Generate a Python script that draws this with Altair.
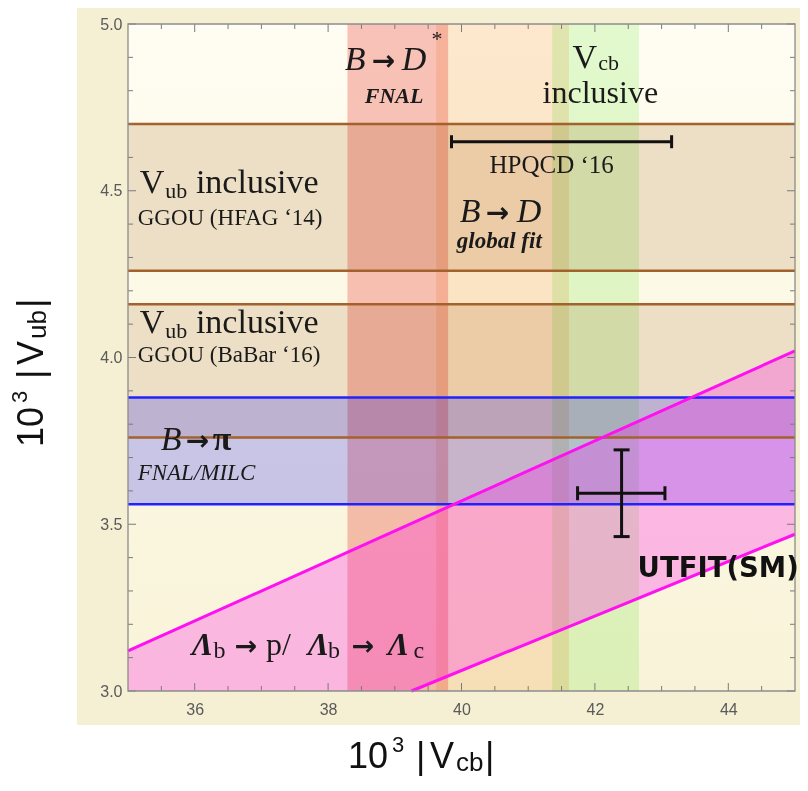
import altair as alt
import pandas as pd

# ---------------- data ----------------
X_DOMAIN = [35.0, 45.0]
Y_DOMAIN = [3.0, 5.0]
W = 667
H = 667

# vertical |Vcb| bands
vband_names = ["B→D* FNAL", "B→D global fit", "Vcb inclusive"]
vband_lo = [38.29, 39.62, 41.36]
vband_hi = [39.80, 41.61, 42.66]
vband_colors = ["#f9c4c1", "#fdead8", "#e2fbd8"]

# horizontal Vub inclusive (GGOU) bands
tan_names = ["GGOU (HFAG '14)", "GGOU (BaBar '16)"]
tan_lo = [4.26, 3.76]
tan_hi = [4.70, 4.16]

# B -> pi FNAL/MILC band
blue_lo = [3.56]
blue_hi = [3.88]

# Lambda_b ratio band: edge points inside the frame (lower edge meets the bottom at 39.25)
lam_x = [35.0, 39.25, 45.0]
lam_upper = [3.12, 3.50, 4.02]
lam_lower = [3.0, 3.0, 3.47]

# HPQCD '16 (Vcb range at fixed height)
hpqcd_y = [4.647]
hpqcd_lo = [39.85]
hpqcd_hi = [43.15]

# UTFIT (SM) point
utfit_x = [42.40]
utfit_xlo = [41.74]
utfit_xhi = [43.05]
utfit_y = [3.593]
utfit_ylo = [3.463]
utfit_yhi = [3.723]

# axis ticks
x_major = [36, 38, 40, 42, 44]
y_major = [3.0, 3.5, 4.0, 4.5, 5.0]
x_minor = [35.5, 36.5, 37.0, 37.5, 38.5, 39.0, 39.5, 40.5, 41.0, 41.5, 42.5, 43.0, 43.5, 44.5]
y_minor = [3.1, 3.2, 3.3, 3.4, 3.6, 3.7, 3.8, 3.9, 4.1, 4.2, 4.3, 4.4, 4.6, 4.7, 4.8, 4.9]

# ---------------- scales / helpers ----------------
xs = alt.Scale(domain=X_DOMAIN, nice=False, zero=False)
ys = alt.Scale(domain=Y_DOMAIN, nice=False, zero=False)
xax = alt.Axis(values=x_major, format="d", ticks=False, domain=False, grid=False,
               labelFontSize=16, labelColor="#5a5a5a", labelFont="Liberation Sans",
               labelPadding=10, title=None, zindex=1)
yax = alt.Axis(values=y_major, format=".1f", ticks=False, domain=False, grid=False,
               labelFontSize=16, labelColor="#5a5a5a", labelFont="Liberation Sans",
               labelPadding=6, title=None, zindex=1)


def X(f):
    return alt.X(f, type="quantitative", scale=xs, axis=xax)


def Y(f):
    return alt.Y(f, type="quantitative", scale=ys, axis=yax)


one = pd.DataFrame({"a": [0]})
layers = []

# outer beige frame
layers.append(alt.Chart(one).mark_rect(color="#f5f0d4").encode(
    x=alt.value(-51), x2=alt.value(672), y=alt.value(-21), y2=alt.value(701)))

# plot background (light cream gradient)
grad = alt.LinearGradient(gradient="linear", x1=0, x2=0, y1=0, y2=1,
                          stops=[alt.GradientStop(color="#fffdf3", offset=0),
                                 alt.GradientStop(color="#fcf8e4", offset=0.5),
                                 alt.GradientStop(color="#f8f3d8", offset=1)])
layers.append(alt.Chart(one).mark_rect(color=grad).encode(
    x=alt.value(0), x2=alt.value(W), y=alt.value(0), y2=alt.value(H)))

# tan bands
tan_df = pd.DataFrame({"lo": tan_lo, "hi": tan_hi, "x0": X_DOMAIN[0], "x1": X_DOMAIN[1]})
layers.append(alt.Chart(tan_df).mark_rect(color="#eddfc5").encode(
    x=X("x0"), x2="x1", y=Y("lo"), y2="hi"))

# vertical bands (multiply, no clip so they blend with everything below)
vb_df = pd.DataFrame({"name": vband_names, "lo": vband_lo, "hi": vband_hi, "c": vband_colors,
                      "y0": Y_DOMAIN[0], "y1": Y_DOMAIN[1]})
layers.append(alt.Chart(vb_df).mark_rect(blend="multiply").encode(
    x=X("lo"), x2="hi", y=Y("y0"), y2="y1", color=alt.Color("c:N", scale=None)))

# blue band (translucent pure blue)
bl_df = pd.DataFrame({"lo": blue_lo, "hi": blue_hi, "x0": X_DOMAIN[0], "x1": X_DOMAIN[1]})
layers.append(alt.Chart(bl_df).mark_rect(color="#0000ff", opacity=0.2).encode(
    x=X("x0"), x2="x1", y=Y("lo"), y2="hi"))

# Lambda_b band (translucent magenta)
lam_df = pd.DataFrame({"x": lam_x, "up": lam_upper, "lo": lam_lower})
layers.append(alt.Chart(lam_df).mark_area(color="#ff00ef", opacity=0.25).encode(
    x=X("x"), y=Y("up"), y2="lo"))

# edge lines
brown_df = pd.DataFrame({"y": tan_hi + tan_lo, "x0": X_DOMAIN[0], "x1": X_DOMAIN[1]})
layers.append(alt.Chart(brown_df).mark_rule(color="#a3622c", strokeWidth=2.5).encode(
    x=X("x0"), x2="x1", y=Y("y")))
blue_df = pd.DataFrame({"y": blue_hi + blue_lo, "x0": X_DOMAIN[0], "x1": X_DOMAIN[1]})
layers.append(alt.Chart(blue_df).mark_rule(color="#2222ff", strokeWidth=2.5).encode(
    x=X("x0"), x2="x1", y=Y("y")))
mag_df = pd.DataFrame({"x0": [lam_x[0], lam_x[1]], "x1": [lam_x[2], lam_x[2]],
                       "y0": [lam_upper[0], lam_lower[1]], "y1": [lam_upper[2], lam_lower[2]]})
layers.append(alt.Chart(mag_df).mark_rule(color="#ff10f0", strokeWidth=3).encode(
    x=X("x0"), x2="x1", y=Y("y0"), y2="y1"))

# HPQCD error bar
hp_df = pd.DataFrame({"y": hpqcd_y, "lo": hpqcd_lo, "hi": hpqcd_hi})
layers.append(alt.Chart(hp_df).mark_rule(color="#111111", strokeWidth=3).encode(
    x=X("lo"), x2="hi", y=Y("y")))
hp_caps = pd.DataFrame({"x": hpqcd_lo + hpqcd_hi, "y": hpqcd_y * 2})
layers.append(alt.Chart(hp_caps).mark_tick(orient="vertical", size=13, thickness=3, color="#111111",
                                           opacity=1).encode(x=X("x"), y=Y("y")))

# UTFIT cross
ut_df = pd.DataFrame({"x": utfit_x, "xlo": utfit_xlo, "xhi": utfit_xhi,
                      "y": utfit_y, "ylo": utfit_ylo, "yhi": utfit_yhi})
layers.append(alt.Chart(ut_df).mark_rule(color="#111111", strokeWidth=3).encode(
    x=X("xlo"), x2="xhi", y=Y("y")))
layers.append(alt.Chart(ut_df).mark_rule(color="#111111", strokeWidth=3).encode(
    x=X("x"), y=Y("ylo"), y2="yhi"))
ut_vcaps = pd.DataFrame({"x": utfit_xlo + utfit_xhi, "y": utfit_y * 2})
layers.append(alt.Chart(ut_vcaps).mark_tick(orient="vertical", size=14, thickness=3, color="#111111",
                                            opacity=1).encode(x=X("x"), y=Y("y")))
ut_hcaps = pd.DataFrame({"x": utfit_x * 2, "y": utfit_ylo + utfit_yhi})
layers.append(alt.Chart(ut_hcaps).mark_tick(orient="horizontal", size=16, thickness=3, color="#111111",
                                            opacity=1).encode(x=X("x"), y=Y("y")))

# frame ticks (inward, all four sides)
TICK_C = "#7a7a7a"
for vals, ln in ((x_major, 8), (x_minor, 5)):
    d = pd.DataFrame({"v": vals})
    layers.append(alt.Chart(d).mark_rule(color=TICK_C, strokeWidth=1).encode(
        x=X("v"), y=alt.value(H), y2=alt.value(H - ln)))
    layers.append(alt.Chart(d).mark_rule(color=TICK_C, strokeWidth=1).encode(
        x=X("v"), y=alt.value(0), y2=alt.value(ln)))
for vals, ln in ((y_major, 8), (y_minor, 5)):
    d = pd.DataFrame({"v": vals})
    layers.append(alt.Chart(d).mark_rule(color=TICK_C, strokeWidth=1).encode(
        y=Y("v"), x=alt.value(0), x2=alt.value(ln)))
    layers.append(alt.Chart(d).mark_rule(color=TICK_C, strokeWidth=1).encode(
        y=Y("v"), x=alt.value(W), x2=alt.value(W - ln)))

# plot border
layers.append(alt.Chart(one).mark_rect(fillOpacity=0, stroke="#8c8c8c", strokeWidth=1.3).encode(
    x=alt.value(0), x2=alt.value(W), y=alt.value(0), y2=alt.value(H)))

# ---------------- annotations (data coordinates) ----------------
TXT = "#1a1a1a"
roman = pd.DataFrame({
    "t": ["V", "cb", "inclusive", "*", "HPQCD \u201816",
          "V", "ub", "inclusive", "GGOU (HFAG \u201814)",
          "V", "ub", "inclusive", "GGOU (BaBar \u201816)",
          "b", "p/", "b", "c"],
    "x": [41.665, 42.05, 41.216, 39.55, 40.42,
          35.175, 35.56, 36.018, 35.145,
          35.175, 35.56, 36.018, 35.145,
          36.28, 37.07, 38.0, 39.28],
    "y": [4.868, 4.862, 4.763, 4.934, 4.553,
          4.493, 4.478, 4.493, 4.397,
          4.073, 4.058, 4.073, 3.987,
          3.099, 3.108, 3.099, 3.099],
    "s": [34, 22, 32, 22, 25,
          34, 22, 34, 23,
          34, 22, 34, 23,
          24, 32, 24, 24],
})
layers.append(alt.Chart(roman).mark_text(font="Liberation Serif", align="left", baseline="alphabetic",
                                         color=TXT).encode(
    x=X("x"), y=Y("y"), text="t:N", size=alt.Size("s:Q", scale=None)))

italic = pd.DataFrame({
    "t": ["B", "D", "B", "D", "B", "FNAL/MILC"],
    "x": [38.249, 39.104, 39.973, 40.828, 35.49, 35.145],
    "y": [4.862, 4.862, 4.406, 4.406, 3.723, 3.633],
    "s": [34, 34, 34, 34, 34, 23],
})
layers.append(alt.Chart(italic).mark_text(font="Liberation Serif", fontStyle="italic", align="left",
                                          baseline="alphabetic", color=TXT).encode(
    x=X("x"), y=Y("y"), text="t:N", size=alt.Size("s:Q", scale=None)))

arrows = pd.DataFrame({
    "t": ["→", "→", "→", "→", "→"],
    "x": [38.654, 40.363, 35.865, 36.60, 38.354],
    "y": [4.862, 4.406, 3.723, 3.108, 3.108],
    "s": [28, 28, 28, 27, 27],
})
layers.append(alt.Chart(arrows).mark_text(font="DejaVu Sans", fontWeight="bold", align="left",
                                          baseline="alphabetic", color=TXT).encode(
    x=X("x"), y=Y("y"), text="t:N", size=alt.Size("s:Q", scale=None)))

bold_italic = pd.DataFrame({
    "t": ["FNAL", "global fit", "Λ", "Λ", "Λ"],
    "x": [38.55, 39.93, 35.955, 37.694, 38.894],
    "y": [4.763, 4.328, 3.108, 3.108, 3.108],
    "s": [22, 23, 32, 32, 32],
})
layers.append(alt.Chart(bold_italic).mark_text(font="Liberation Serif", fontStyle="italic",
                                               fontWeight="bold", align="left", baseline="alphabetic",
                                               color=TXT).encode(
    x=X("x"), y=Y("y"), text="t:N", size=alt.Size("s:Q", scale=None)))

bold = pd.DataFrame({"t": ["π"], "x": [36.27], "y": [3.723], "s": [34]})
layers.append(alt.Chart(bold).mark_text(font="Liberation Serif", fontWeight="bold", align="left",
                                        baseline="alphabetic", color=TXT).encode(
    x=X("x"), y=Y("y"), text="t:N", size=alt.Size("s:Q", scale=None)))

utfit_lbl = pd.DataFrame({"t": ["UTFIT(SM)"], "x": [42.64], "y": [3.342]})
layers.append(alt.Chart(utfit_lbl).mark_text(font="DejaVu Sans", fontWeight="bold", fontSize=27.5,
                                             align="left", baseline="alphabetic", color="#111111").encode(
    x=X("x"), y=Y("y"), text="t:N"))

# ---------------- axis titles (pixel placement outside the plot) ----------------
xt = pd.DataFrame({
    "t": ["10", "3", "|", "V", "cb", "|"],
    "px": [220, 264, 288, 302, 328, 357],
    "py": [744, 728, 744, 744, 747, 744],
    "s": [36, 22, 36, 36, 26, 36],
})
layers.append(alt.Chart(xt).mark_text(font="Liberation Sans", align="left", baseline="alphabetic",
                                      color="#111111").encode(
    x=alt.X("px:Q", scale=None), y=alt.Y("py:Q", scale=None), text="t:N",
    size=alt.Size("s:Q", scale=None)))

yt = pd.DataFrame({
    "t": ["10", "3", "|", "V", "ub", "|"],
    "px": [-85, -101, -85, -85, -82, -85],
    "py": [423, 379, 355, 341, 315, 284],
    "s": [36, 22, 36, 36, 26, 36],
})
layers.append(alt.Chart(yt).mark_text(font="Liberation Sans", align="left", baseline="alphabetic",
                                      angle=270, color="#111111").encode(
    x=alt.X("px:Q", scale=None), y=alt.Y("py:Q", scale=None), text="t:N",
    size=alt.Size("s:Q", scale=None)))

chart = alt.layer(*layers).properties(
    width=W, height=H,
    autosize=alt.AutoSizeParams(type="none"),
    padding={"left": 120, "top": 16, "right": 5, "bottom": 86},
    background="white",
).configure_view(stroke=None)

chart.save("out.html", embed_options={"renderer": "svg", "actions": False})
